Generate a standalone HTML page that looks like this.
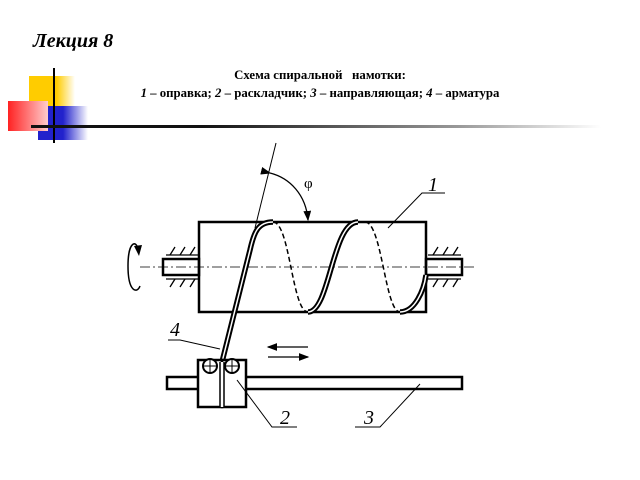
<!DOCTYPE html>
<html><head><meta charset="utf-8"><style>
body{margin:0;width:640px;height:480px;background:#fff;overflow:hidden;position:relative;font-family:"Liberation Serif",serif}
.t{position:absolute;font-weight:bold;font-size:12.8px;width:640px;text-align:center;left:0;line-height:15px}
</style></head><body>
<div style="position:absolute;left:33px;top:30px;font:italic bold 20px 'Liberation Serif',serif">Лекция 8</div>
<div style="position:absolute;left:29px;top:76px;width:46px;height:30px;background:linear-gradient(90deg,#fc0 60%,#fff)"></div>
<div style="position:absolute;left:38px;top:106px;width:50px;height:34px;background:linear-gradient(90deg,#22c 50%,#fff)"></div>
<div style="position:absolute;left:8px;top:101px;width:40px;height:30px;background:linear-gradient(90deg,#f22,#fcc)"></div>
<div style="position:absolute;left:53px;top:68px;width:2px;height:75px;background:#000"></div>
<div style="position:absolute;left:31px;top:125px;width:570px;height:3px;background:linear-gradient(90deg,#111 30%,#999 75%,#fff)"></div>
<div class="t" style="top:68px">Схема спиральной &nbsp; намотки:</div>
<div class="t" style="top:86px"><i>1</i> – оправка; <i>2</i> – раскладчик; <i>3</i> – направляющая; <i>4</i> – арматура</div>
<svg width="640" height="480" style="position:absolute;left:0;top:0" fill="none" stroke="#000">
<defs><marker id="a" markerWidth="8" markerHeight="6" refX="7" refY="3" orient="auto"><path d="M0,0L8,3L0,6z" fill="#000" stroke="none"/></marker></defs>
<rect x="199" y="222" width="227" height="90" stroke-width="2.5"/>
<rect x="163" y="259" width="36" height="16" stroke-width="2.5"/>
<rect x="426" y="259" width="36" height="16" stroke-width="2.5"/>
<g stroke-width="1.3">
<path d="M166,255H199M166,279H199M428,255H461M428,279H461"/>
<path d="M170,255l5,-8M180,255l5,-8M190,255l5,-8M170,287l5,-8M180,287l5,-8M190,287l5,-8M433,255l5,-8M443,255l5,-8M453,255l5,-8M433,287l5,-8M443,287l5,-8M453,287l5,-8"/>
</g>
<path d="M140,267H475" stroke-width="0.8" stroke-dasharray="10,3,2,3"/>
<path d="M138,250 C137,240 128,240 128,266 C128,292 137,294 140,286" stroke-width="1.5"/>
<path d="M134,246 L142,245 L139,256 z" fill="#000" stroke="none"/>
<g stroke-dasharray="5,3" stroke-width="1.5">
<path d="M273,222 C290,222 292,312 308,312"/>
<path d="M365,222 C382,222 385,312 400,312"/>
</g>
<g stroke-width="5.5">
<path d="M222,362 L250,250 C254,232 258,222 273,222"/>
<path d="M308,312 C330,312 332,222 358,222"/>
<path d="M400,312 C415,312 424,290 426,275"/>
</g>
<g stroke="#fff" stroke-width="1.5">
<path d="M222,362 L250,250 C254,232 258,222 273,222"/>
<path d="M308,312 C330,312 332,222 358,222"/>
<path d="M400,312 C415,312 424,290 426,275"/>
</g>
<path d="M276,143 L255,228" stroke-width="1"/>
<path d="M270,173 C290,178 306,195 308,220" stroke-width="1.3" marker-start="url(#a)" marker-end="url(#a)"/>
<rect x="167" y="377" width="295" height="12" stroke-width="2.5" fill="#fff"/>
<rect x="198" y="360" width="24" height="47" stroke-width="2.5" fill="#fff"/>
<rect x="222" y="360" width="24" height="47" stroke-width="2.5" fill="#fff"/>
<path d="M222,362V407" stroke="#fff" stroke-width="3"/>
<path d="M220,362V407M224,362V407" stroke-width="1.5"/>
<circle cx="210" cy="366" r="7" stroke-width="2" fill="#fff"/>
<circle cx="232" cy="366" r="7" stroke-width="2" fill="#fff"/>
<path d="M203,366h14M210,359v14M225,366h14M232,359v14" stroke-width="1"/>
<path d="M308,347H268" stroke-width="1.3" marker-end="url(#a)"/>
<path d="M268,357H308" stroke-width="1.3" marker-end="url(#a)"/>
<g stroke-width="1">
<path d="M388,228 L422,193 H445"/>
<path d="M168,340 H180 L220,349"/>
<path d="M237,380 L272,427 H297"/>
<path d="M420,384 L380,427 H355"/>
</g>
<g fill="#000" stroke="none" font-family="Liberation Serif" font-style="italic" font-size="20">
<text x="428" y="191">1</text><text x="170" y="336">4</text><text x="280" y="424">2</text><text x="364" y="424">3</text>
</g>
<text x="304" y="188" fill="#000" stroke="none" font-family="Liberation Serif" font-size="15">φ</text>
</svg>
</body></html>
